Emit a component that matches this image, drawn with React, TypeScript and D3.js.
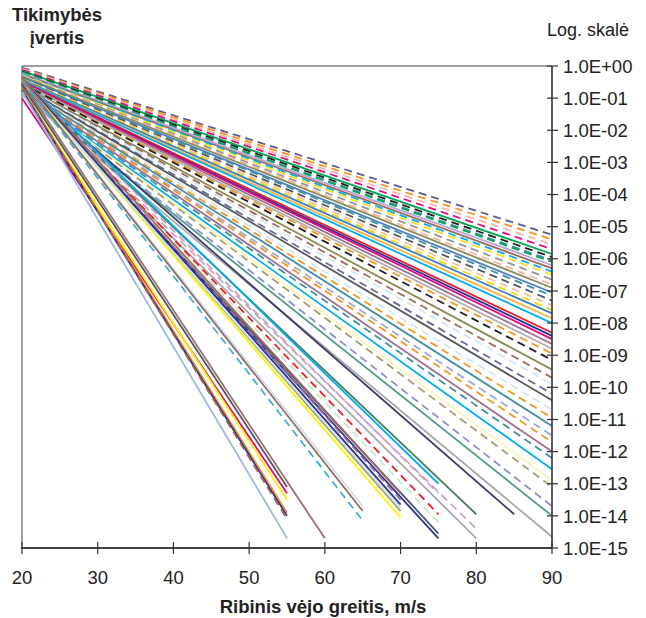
import React from "react";
import * as d3 from "d3";

// x tick values and y tick exponents
const xTicks = [20, 30, 40, 50, 60, 70, 80, 90];
const yTickExps = d3.range(0, -16, -1);
const yTickLabels = yTickExps.map((e) =>
  e === 0 ? "1.0E+00" : "1.0E-" + String(-e).padStart(2, "0")
);

// each series: log10 probability at 20 m/s, end speed and log10 probability at the end
const seriesStart = [
  -0.05, -0.08, -0.1, -0.12, -0.15, -0.18, -0.2, -0.2, -0.22, -0.25, -0.25, -0.28, -0.3, -0.3, -0.32, -0.35,
  -0.35, -0.38, -0.4, -0.4, -0.42, -0.45, -0.45, -0.48, -0.5, -0.5, -0.52, -0.55, -0.55, -0.55, -0.6, -0.6,
  -0.62, -0.65, -0.65, -0.68, -0.7, -0.7, -0.72, -0.72, -0.75, -0.78, -0.8, -0.8, -0.82, -0.85, -0.85, -0.9,
  -0.6,
  -0.55, -0.65, -0.7,
  -0.4, -0.45, -0.5, -0.5, -0.55, -0.55,
  -0.35, -0.4, -0.4, -0.45, -0.45, -0.5,
  -0.4, -0.4, -0.45,
  -0.5,
  -1.0, -0.6, -0.7, -0.7, -0.75, -0.7, -0.8,
];
const seriesEndX = [
  90, 90, 90, 90, 90, 90, 90, 90, 90, 90, 90, 90, 90, 90, 90, 90,
  90, 90, 90, 90, 90, 90, 90, 90, 90, 90, 90, 90, 90, 90, 90, 90,
  90, 90, 90, 90, 90, 90, 90, 90, 90, 90, 90, 90, 90, 90, 90, 90,
  85,
  80, 80, 80,
  75, 75, 75, 75, 75, 75,
  70, 70, 70, 70, 70, 70,
  65, 65, 65,
  60,
  55, 55, 55, 55, 55, 55, 55,
];
const seriesEnd = [
  -5.25, -5.4, -5.55, -5.7, -5.85, -5.95, -6.05, -6.1, -6.2, -6.3, -6.4, -6.5, -6.65, -6.8, -6.9, -7.05,
  -7.15, -7.3, -7.45, -7.6, -7.7, -7.85, -8.0, -8.3, -8.4, -8.5, -8.65, -8.8, -8.95, -9.15, -9.45, -9.7,
  -9.9, -10.2, -10.4, -10.7, -10.95, -11.2, -11.5, -11.7, -12.0, -12.2, -12.55, -12.9, -13.1, -13.7, -14.0, -14.65,
  -13.95,
  -13.95, -14.4, -14.7,
  -13.0, -13.3, -13.95, -14.2, -14.55, -14.7,
  -13.3, -13.5, -13.65, -13.85, -14.05, -13.75,
  -13.7, -13.85, -14.15,
  -14.7,
  -13.3, -13.1, -13.5, -13.9, -14.0, -14.1, -14.7,
];
const seriesColor = [
  "#5b5b8f", "#f7941d", "#f4b6a6", "#e5097f", "#00a651", "#231f20", "#3f8fa0", "#00a651",
  "#b9a7d6", "#9b6b5e", "#00aeef", "#ffde17", "#939598", "#f4b6a6", "#8d8b55", "#4f81bd",
  "#3f8fa0", "#4d5866", "#f9c09f", "#ffd200", "#3a7fc1", "#fbb040", "#00aeef", "#ed1c24",
  "#2e3192", "#e5097f", "#a07090", "#b0b0b0", "#f7941d", "#231f20", "#8d8b55", "#9b6b5e",
  "#cfe7f5", "#6a6a9a", "#555a5f", "#cfe7f5", "#f7941d", "#3f8fa0", "#9aa8d8", "#f7941d",
  "#a07090", "#3f8fa0", "#00aeef", "#fff3bf", "#a0a070", "#8f8fd0", "#4f9a8a", "#a7a9ac",
  "#3d3d6b",
  "#4a7c59", "#c8a2c8", "#a7a9ac",
  "#00aeef", "#c8a2c8", "#ed1c24", "#c8e6c9", "#4d5866", "#2e3192",
  "#9b6b5e", "#a07090", "#2e3192", "#a3a35f", "#fff200", "#c6e2f5",
  "#c6e2f5", "#9b6b5e", "#3fb0d0",
  "#a0716b",
  "#e5097f", "#4d5866", "#fff200", "#f7941d", "#2e3192", "#9b6b5e", "#9db9e0",
];
const seriesDashed = [
  1, 1, 1, 1, 0, 1, 1, 1, 0, 0, 1, 1, 1, 1, 0, 0,
  1, 1, 1, 1, 0, 0, 0, 0, 0, 0, 0, 0, 1, 1, 0, 1,
  1, 1, 0, 1, 1, 0, 1, 1, 0, 1, 0, 0, 1, 1, 0, 0,
  0,
  0, 1, 0,
  0, 1, 1, 1, 0, 0,
  0, 1, 0, 0, 0, 0,
  0, 0, 1,
  0,
  0, 0, 0, 0, 0, 1, 0,
];

const W = 646;
const H = 618;
const margin = { top: 66, right: 94, bottom: 70, left: 22 };
const FONT = "'Liberation Sans', Arial, Helvetica, sans-serif";

export default function App() {
  const x = d3.scaleLinear().domain([20, 90]).range([margin.left, W - margin.right]);
  const y = d3.scaleLog().domain([1e-15, 1]).range([H - margin.bottom, margin.top]);
  const line = d3
    .line<[number, number]>()
    .x((d) => x(d[0]))
    .y((d) => y(Math.pow(10, d[1])));

  const x0 = x(20);
  const x1 = x(90);
  const yTop = y(1);
  const yBot = y(1e-15);

  return (
    <svg
      width={W}
      height={H}
      style={{ position: "absolute", left: 0, top: 0, display: "block", background: "#fff" }}
      fontFamily={FONT}
    >
      {/* frame: light top and left, dark right and bottom axes */}
      <line x1={x0} x2={x1} y1={yTop} y2={yTop} stroke="#a0a0a0" strokeWidth={2} />
      <line x1={x0} x2={x0} y1={yTop} y2={yBot} stroke="#a0a0a0" strokeWidth={2} />

      <g fill="none" strokeWidth={1.8}>
        {seriesStart.map((s, i) => (
          <path
            key={i}
            d={line([[20, s], [seriesEndX[i], seriesEnd[i]]]) || ""}
            stroke={seriesColor[i]}
            strokeDasharray={seriesDashed[i] ? "8,5" : undefined}
          />
        ))}
      </g>

      <line x1={x1} x2={x1} y1={yTop} y2={yBot} stroke="#333" strokeWidth={1.6} />
      <line x1={x0 - 1} x2={x1} y1={yBot} y2={yBot} stroke="#444" strokeWidth={2} />

      {yTickExps.map((e, i) => (
        <g key={e} transform={`translate(${x1},${y(Math.pow(10, e))})`}>
          <line x1={-5} x2={6} stroke="#333" strokeWidth={1.2} />
          <text x={11} dy="0.36em" fontSize={18.5} fill="#222">
            {yTickLabels[i]}
          </text>
        </g>
      ))}

      {xTicks.map((t) => (
        <g key={t} transform={`translate(${x(t)},${yBot})`}>
          <line y1={-6} y2={6} stroke="#333" strokeWidth={1.2} />
          <text y={36} textAnchor="middle" fontSize={18.5} fill="#222">
            {t}
          </text>
        </g>
      ))}

      <text x={57} y={21} textAnchor="middle" fontSize={18.5} fontWeight="bold" fill="#222">
        Tikimybės
      </text>
      <text x={57} y={44} textAnchor="middle" fontSize={18.5} fontWeight="bold" fill="#222">
        įvertis
      </text>
      <text x={588} y={36} textAnchor="middle" fontSize={18} fill="#222">
        Log. skalė
      </text>
      <text x={323} y={613} textAnchor="middle" fontSize={18.5} fontWeight="bold" fill="#222">
        Ribinis vėjo greitis, m/s
      </text>
    </svg>
  );
}
